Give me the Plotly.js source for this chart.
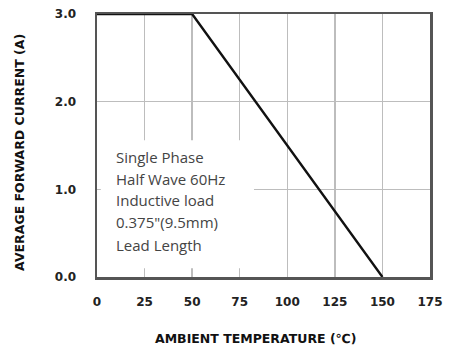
<!DOCTYPE html>
<html><head><meta charset="utf-8">
<script src="https://cdn.plot.ly/plotly-3.0.1.min.js"></script>
<style>html,body{margin:0;padding:0;background:#fff}</style>
</head><body><div id="chart" style="width:454px;height:351px"></div>
<script>
const temperature = [0, 50, 150];
const current = [3.0, 3.0, 0.0];
const xTicks = [0, 25, 50, 75, 100, 125, 150, 175];
const yTicks = [0, 1, 2, 3];
const yTickLabels = ['0.0', '1.0', '2.0', '3.0'];
const xTitle = 'AMBIENT TEMPERATURE (℃)';
const yTitle = 'AVERAGE FORWARD CURRENT (A)';
const noteLines = ['Single Phase', 'Half Wave 60Hz', 'Inductive load', '0.375"(9.5mm)', 'Lead Length'];
const noteY = [1.37, 1.12, 0.88, 0.63, 0.37];

const annotations = noteLines.map((t, i) => ({
  x: 9, y: noteY[i], xref: 'x', yref: 'y', text: t, showarrow: false,
  xanchor: 'left', yanchor: 'middle',
  font: {family: 'Open Sans, Noto Sans, sans-serif', size: 15, color: '#444'}
}));
annotations.push({
  x: 0.477, y: -0.232, xref: 'paper', yref: 'paper', text: xTitle, showarrow: false,
  xanchor: 'center', yanchor: 'middle',
  font: {family: 'DejaVu Sans, sans-serif', size: 12.5, color: '#111', weight: 'bold'}
});
annotations.push({
  x: -0.231, y: 0.472, xref: 'paper', yref: 'paper', text: yTitle, showarrow: false,
  textangle: -90, xanchor: 'center', yanchor: 'middle',
  font: {family: 'DejaVu Sans, sans-serif', size: 12.5, color: '#111', weight: 'bold'}
});

const data = [{
  x: temperature, y: current, type: 'scatter', mode: 'lines',
  line: {color: '#111', width: 2.4}, hoverinfo: 'skip'
}];

const tickFont = {family: 'DejaVu Sans, sans-serif', size: 12, color: '#222', weight: 'bold'};

const layout = {
  width: 454, height: 351,
  margin: {l: 97, r: 24, t: 14, b: 74},
  paper_bgcolor: '#fff', plot_bgcolor: '#fff',
  showlegend: false,
  xaxis: {
    range: [0, 175], tickvals: xTicks, ticktext: xTicks.map(String),
    showgrid: true, gridcolor: '#bdbdbd', gridwidth: 1.5, zeroline: false,
    showline: true, linecolor: '#555', linewidth: 2.5, mirror: true,
    ticks: 'outside', ticklen: 12, tickcolor: 'rgba(0,0,0,0)',
    tickfont: tickFont
  },
  yaxis: {
    range: [0, 3], tickvals: yTicks, ticktext: yTickLabels,
    showgrid: true, gridcolor: '#bdbdbd', gridwidth: 1.5, zeroline: false,
    showline: true, linecolor: '#555', linewidth: 2.5, mirror: true,
    ticks: 'outside', ticklen: 16, tickcolor: 'rgba(0,0,0,0)',
    tickfont: tickFont
  },
  shapes: [{
    type: 'rect', xref: 'x', yref: 'y', x0: 2, x1: 82.5, y0: 0.1, y1: 1.56,
    fillcolor: '#fff', line: {width: 0}, layer: 'above'
  }],
  annotations: annotations
};

Plotly.newPlot('chart', data, layout, {staticPlot: true, displayModeBar: false});
</script></body></html>
